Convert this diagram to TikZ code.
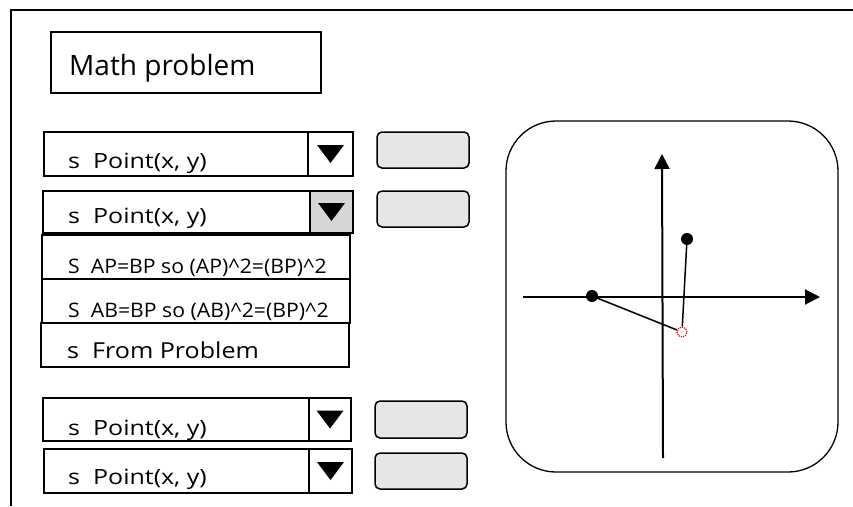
\documentclass[tikz,border=0pt]{standalone}
\usepackage{fontspec}
\setmainfont{Open Sans}
\usepackage{tikz}
\usetikzlibrary{arrows.meta}
\definecolor{btngray}{HTML}{E6E6E6}
\definecolor{arrowgray}{HTML}{D6D6D6}

\begin{document}
\begin{tikzpicture}[x=1pt,y=-1pt,
        field/.style={draw, line width=1.6pt, inner sep=0pt},
        pick/.style={draw, line width=1.6pt, inner sep=0pt, minimum height=44pt},
        btn/.style={draw, line width=1.5pt, fill=btngray, rounded corners=5pt, minimum width=92pt, minimum height=36pt, inner sep=0pt},
        lbl/.style={anchor=base west, inner sep=0pt, xscale=1.19, font=\fontsize{21}{25}\selectfont},
        axis/.style={line width=2pt, -{Triangle[length=15pt,width=15pt]}},
        dot/.style={circle, fill, inner sep=0pt, minimum size=12pt}]
    \useasboundingbox (0,0) rectangle (853,506);
    % frame
    \draw[line width=1.3pt] (11,506) -- (11,10) -- (853,10);
    % title
    \node[field, line width=1.3pt, minimum width=270pt, minimum height=61pt] (title) at (186,62.5) {};
    \node[lbl, xscale=1/1.19, font=\fontsize{28}{33}\selectfont] (titletext) at (69,75) {Math problem};

    % first two pickers
    \node[pick, minimum width=264pt] (dd1) at (176,154) {};
    \node[pick, minimum width=45pt] (ar1) at (330.5,154) {};
    \node[lbl] (t1) at (68,168) {s\ \ Point(x, y)};
    \node[pick, minimum width=267pt, minimum height=42pt] (dd2) at (176.5,212) {};
    \node[pick, fill=arrowgray, minimum width=43pt, minimum height=42pt] (ar2) at (331.5,212) {};
    \node[lbl] (t2) at (68,223) {s\ \ Point(x, y)};

    % open list
    \node[field, line width=1.3pt, minimum width=308pt, minimum height=44pt] (item1) at (196,257) {};
    \node[lbl, xscale=1.06/1.19, font=\fontsize{20}{24}\selectfont] (t3) at (68,273) {S\ \ AP=BP so (AP)\^{}2=(BP)\^{}2};
    \node[field, line width=1.3pt, minimum width=308pt, minimum height=44pt] (item2) at (196,301) {};
    \node[lbl, xscale=1.06/1.19, font=\fontsize{20}{24}\selectfont] (t4) at (68,317) {S\ \ AB=BP so (AB)\^{}2=(BP)\^{}2};
    \node[field, line width=1.3pt, minimum width=308pt, minimum height=44pt] (item3) at (195,345) {};
    \node[lbl, xscale=1.14/1.19, font=\fontsize{22}{26}\selectfont] (t5) at (67,358) {s\ \ From Problem};

    % lower pickers
    \node[pick, minimum width=266pt, minimum height=43pt] (dd3) at (176,419.5) {};
    \node[pick, minimum width=42pt, minimum height=43pt] (ar3) at (330,419.5) {};
    \node[lbl] (t6) at (68,435) {s\ \ Point(x, y)};
    \node[pick, minimum width=265pt] (dd4) at (176.5,471) {};
    \node[pick, minimum width=43pt] (ar4) at (330.5,471) {};
    \node[lbl] (t7) at (68,484) {s\ \ Point(x, y)};

    % down arrows
    \foreach \a in {ar1,ar2,ar3,ar4}
        \fill ([xshift=-13.5pt,yshift=9pt]\a.center) -- ++(27,0) -- ++(-13.5,18) -- cycle;

    % buttons
    \node[btn] (btn1) at (423,150) {};
    \node[btn] (btn2) at (423,209) {};
    \node[btn, minimum height=37pt] (btn3) at (421,419.5) {};
    \node[btn] (btn4) at (421,471) {};

    % graph
    \node[draw, line width=1.3pt, rounded corners=50pt, minimum width=332pt, minimum height=351pt] (graph) at (672,296.5) {};
    \coordinate (xs) at (523,297);
    \coordinate (xe) at (820,297);
    \coordinate (ys) at (663,458);
    \coordinate (ye) at (662,154);
    \draw[axis] (xs) -- (xe);
    \draw[axis] (ys) -- (ye);
    \node[dot] (A) at (592,296) {};
    \node[dot] (B) at (687,239) {};
    \node[circle, draw=red, densely dotted, line width=1.2pt, minimum size=10pt, inner sep=0pt] (P) at (682,332) {};
    \draw[line width=1.5pt] (A.center) -- (P);
    \draw[line width=1.5pt] (B.center) -- (P);
\end{tikzpicture}
\end{document}
